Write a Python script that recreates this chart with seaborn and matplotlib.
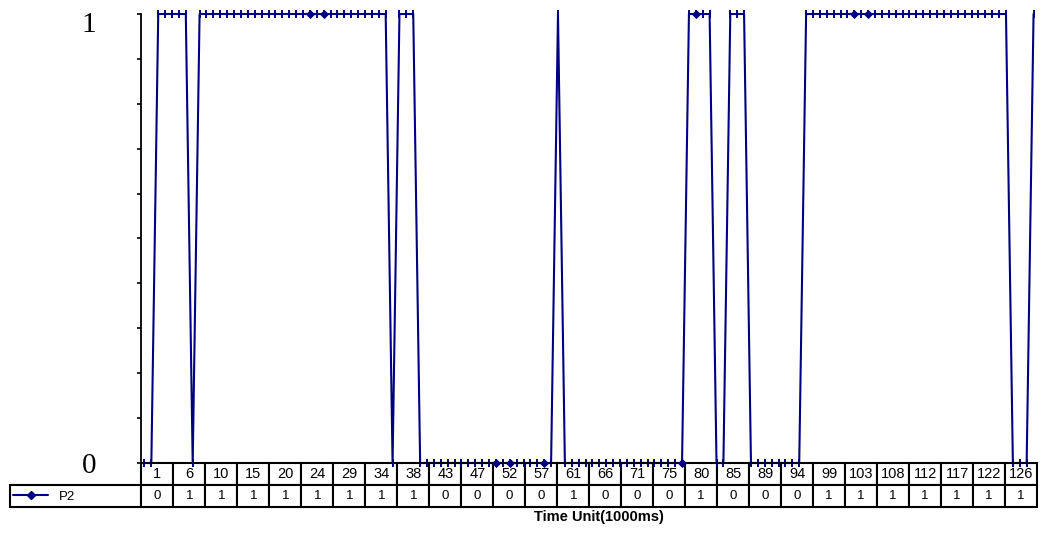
import pandas as pd
import matplotlib
matplotlib.use("Agg")
import matplotlib.pyplot as plt
import seaborn as sns
from matplotlib.lines import Line2D
from matplotlib.ticker import MultipleLocator
from matplotlib.transforms import ScaledTranslation

# P2 state for every time unit (1..130)
p2 = [
    0, 0, 1, 1, 1, 1, 1, 0, 1, 1,
    1, 1, 1, 1, 1, 1, 1, 1, 1, 1,
    1, 1, 1, 1, 1, 1, 1, 1, 1, 1,
    1, 1, 1, 1, 1, 1, 0, 1, 1, 1,
    0, 0, 0, 0, 0, 0, 0, 0, 0, 0,
    0, 0, 0, 0, 0, 0, 0, 0, 0, 0,
    1, 0, 0, 0, 0, 0, 0, 0, 0, 0,
    0, 0, 0, 0, 0, 0, 0, 0, 0, 1,
    1, 1, 1, 0, 0, 1, 1, 1, 0, 0,
    0, 0, 0, 0, 0, 0, 1, 1, 1, 1,
    1, 1, 1, 1, 1, 1, 1, 1, 1, 1,
    1, 1, 1, 1, 1, 1, 1, 1, 1, 1,
    1, 1, 1, 1, 1, 1, 0, 0, 0, 1,
]

# samples that show a diamond marker instead of the small tick
diamond_points = [25, 27, 52, 54, 59, 79, 81, 104, 106]

# time labels in the data table under the chart
time_labels = [1, 6, 10, 15, 20, 24, 29, 34, 38, 43, 47, 52, 57, 61,
               66, 71, 75, 80, 85, 89, 94, 99, 103, 108, 112, 117, 122, 126]

# P2 values printed in the table row
table_values = [0, 1, 1, 1, 1, 1, 1, 1, 1, 0, 0, 0, 0, 1,
                0, 0, 0, 1, 0, 0, 0, 1, 1, 1, 1, 1, 1, 1]

navy = "#000080"

df = pd.DataFrame({"time": range(1, len(p2) + 1), "P2": p2})
marked = df[df["time"].isin(diamond_points)]

sns.set_style("white")
plt.rcParams["font.family"] = ["Liberation Sans", "DejaVu Sans"]
plt.rcParams["text.color"] = "black"
plt.rcParams["axes.labelcolor"] = "black"
plt.rcParams["ytick.color"] = "black"
plt.rcParams["xtick.color"] = "black"

fig = plt.figure(figsize=(10.42, 5.33), dpi=100)
ax = fig.add_axes([141 / 1042, 70 / 533, 896 / 1042, 449 / 533])

sns.lineplot(data=df, x="time", y="P2", ax=ax, color=navy, linewidth=1.5,
             marker="|", markersize=6, markeredgewidth=1.4,
             markeredgecolor=navy, clip_on=False, legend=False)
sns.scatterplot(data=marked, x="time", y="P2", ax=ax, marker="D", s=22,
                color=navy, edgecolor=navy, linewidth=0, clip_on=False,
                zorder=4, legend=False)

ax.set_xlim(0.5, len(p2) + 0.5)
ax.set_ylim(0, 1)
ax.set_xticks([])
ax.set_yticks([0, 1])
ax.set_yticklabels(["0", "1"], fontfamily="Liberation Serif", fontsize=21,
                   color="black")
ax.yaxis.set_minor_locator(MultipleLocator(0.1))
ax.tick_params(axis="y", which="both", direction="out", length=3, width=1.2,
               color="black", pad=29, left=True)
ax.set_ylabel("")
for side in ["top", "right"]:
    ax.spines[side].set_visible(False)
for side in ["left", "bottom"]:
    ax.spines[side].set_color("black")
    ax.spines[side].set_linewidth(1.3)

# data table below the plot
cell_text = [[""] + [str(v) for v in table_values]]
col_labels = [""] + [str(t) for t in time_labels]
tab = ax.table(cellText=cell_text, colLabels=col_labels, cellLoc="center",
               colWidths=[132 / 32] + [1] * len(time_labels),
               bbox=[-131.5 / 896, -44 / 449, 1 + 131.5 / 896, 44 / 449])
tab.auto_set_font_size(False)
for (r, c), cell in tab.get_celld().items():
    cell.set_linewidth(1.5)
    cell.set_edgecolor("black")
    cell.get_text().set_fontsize(10.5 if r == 0 else 9.5)
    cell.get_text().set_color("black")
tab[0, 0].visible_edges = "open"

handle = Line2D([], [], color=navy, linewidth=1.5, marker="D", markersize=4.5)
ax.legend([handle], ["P2"], loc="center left",
          bbox_to_anchor=(-128.3 / 896, -33.5 / 449), frameon=False,
          fontsize=9.5, handlelength=2.7, handletextpad=0.8,
          borderpad=0, borderaxespad=0, labelcolor="black")

ax.set_xlabel("Time Unit(1000ms)", fontsize=10.5, fontweight="bold",
              color="black")
ax.xaxis.set_label_coords((599 - 141) / 896, (463 - 510) / 449)

# the "1" label sits a bit below its tick in the original
t1 = ax.yaxis.get_major_ticks()[1]
t1.label1.set_transform(t1.label1.get_transform() +
                        ScaledTranslation(0, -6 / 72, fig.dpi_scale_trans))

fig.savefig("out.png", dpi=100)
